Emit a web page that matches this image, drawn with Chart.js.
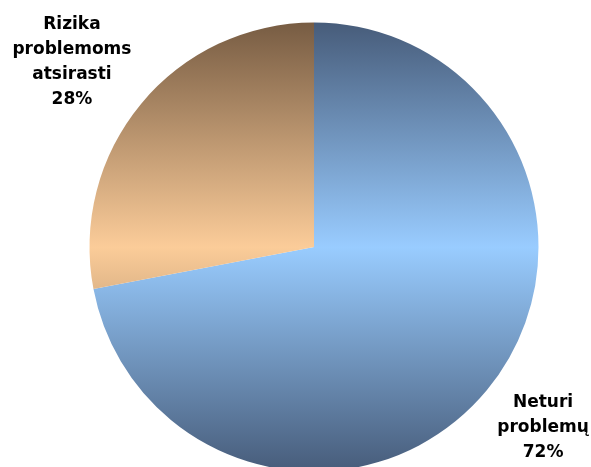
<!DOCTYPE html>
<html>
<head>
<meta charset="utf-8">
<title>Problemos</title>
<script src="https://cdn.jsdelivr.net/npm/chart.js@4"></script>
<style>
  html, body { margin: 0; padding: 0; background: #fff; }
  canvas { display: block; }
</style>
</head>
<body>
<canvas id="pieCanvas" width="591" height="467"></canvas>
<script>
// categories (each entry split into label lines) and their shares in percent
const categories = [['Neturi', 'problemų'], ['Rizika', 'problemoms', 'atsirasti']];
const shares = [72, 28];

// gradient stops per slice: dark edge, light middle
const sliceEdge = ['#475c7a', '#775c43'];
const sliceMid = ['#99ccff', '#fbcc99'];

const PIE_RADIUS = 224.5;

function sliceGradient(context) {
  const chart = context.chart;
  const area = chart.chartArea;
  if (!area) return sliceMid[context.dataIndex];
  const cy = (area.top + area.bottom) / 2;
  const g = chart.ctx.createLinearGradient(0, cy - PIE_RADIUS, 0, cy + PIE_RADIUS);
  g.addColorStop(0, sliceEdge[context.dataIndex]);
  g.addColorStop(0.5, sliceMid[context.dataIndex]);
  g.addColorStop(1, sliceEdge[context.dataIndex]);
  return g;
}

// draws the category name and percentage outside each slice
const outsideLabels = {
  id: 'outsideLabels',
  afterDatasetsDraw(chart, args, opts) {
    const ctx = chart.ctx;
    const meta = chart.getDatasetMeta(0);
    const total = shares.reduce((a, b) => a + b, 0);
    ctx.save();
    ctx.font = opts.font;
    ctx.fillStyle = opts.color;
    ctx.textAlign = 'center';
    ctx.textBaseline = 'alphabetic';
    meta.data.forEach((arc, i) => {
      const mid = (arc.startAngle + arc.endAngle) / 2;
      const nudge = opts.nudge[i];
      const x = arc.x + Math.cos(mid) * arc.outerRadius * opts.distance + nudge[0];
      const y = arc.y + Math.sin(mid) * arc.outerRadius * opts.distance + nudge[1];
      const lines = categories[i].concat([Math.round(shares[i] / total * 100) + '%']);
      lines.forEach((line, j) => {
        const by = y + (j - (lines.length - 1) / 2) * opts.lineHeight + 6;
        ctx.fillText(line, x, by);
      });
    });
    ctx.restore();
  }
};

const chart = new Chart(document.getElementById('pieCanvas').getContext('2d'), {
  type: 'pie',
  data: {
    labels: categories.map(c => c.join(' ')),
    datasets: [{
      data: shares,
      backgroundColor: sliceGradient,
      borderWidth: 0,
      radius: PIE_RADIUS
    }]
  },
  options: {
    responsive: false,
    animation: false,
    devicePixelRatio: 1,
    layout: {
      padding: { left: 37, top: 27, right: 0, bottom: 0 }
    },
    plugins: {
      legend: { display: false },
      tooltip: { enabled: false },
      outsideLabels: {
        font: 'bold 17px "DejaVu Sans", Verdana, sans-serif',
        color: '#000',
        lineHeight: 25,
        distance: 1.33,
        nudge: [[-1, -11], [-12, 4]]
      }
    }
  },
  plugins: [outsideLabels]
});
</script>
</body>
</html>
